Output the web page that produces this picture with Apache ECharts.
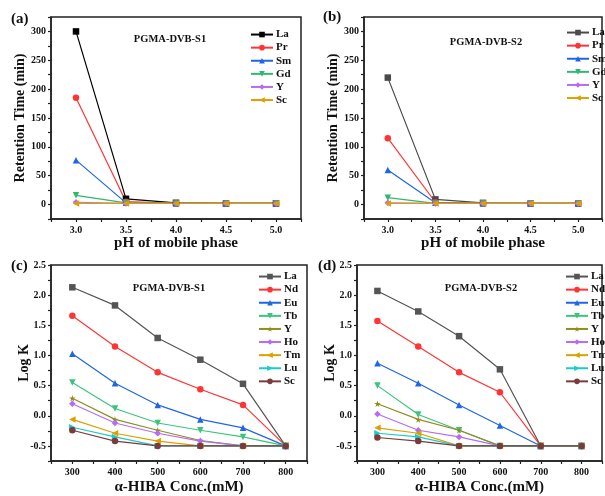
<!DOCTYPE html>
<html><head><meta charset="utf-8">
<script src="https://cdn.jsdelivr.net/npm/echarts@6/dist/echarts.min.js"></script>
<style>html,body{margin:0;padding:0;background:#fff}#c{width:605px;height:496px}</style>
</head><body><div id="c"></div>
<script>
// ---------- data ----------
const pH = [3.0, 3.5, 4.0, 4.5, 5.0];
const conc = [300, 400, 500, 600, 700, 800];

// panel (a) PGMA-DVB-S1 retention time (min)
const a_La = [300, 10, 3, 2, 2];
const a_Pr = [185, 5, 2, 2, 2];
const a_Sm = [77, 3, 2, 2, 2];
const a_Gd = [16, 3, 2, 2, 2];
const a_Y  = [4, 2, 2, 2, 2];
const a_Sc = [2, 2, 2, 2, 2];

// panel (b) PGMA-DVB-S2 retention time (min)
const b_La = [220, 9, 3, 2, 2];
const b_Pr = [115, 4, 2, 2, 2];
const b_Sm = [60, 3, 2, 2, 2];
const b_Gd = [12, 2, 2, 2, 2];
const b_Y  = [3, 2, 2, 2, 2];
const b_Sc = [2, 2, 2, 2, 2];

// panel (c) PGMA-DVB-S1 log K
const c_La = [2.13, 1.83, 1.29, 0.93, 0.53, -0.5];
const c_Nd = [1.66, 1.15, 0.72, 0.44, 0.18, -0.5];
const c_Eu = [1.03, 0.54, 0.18, -0.06, -0.2, -0.5];
const c_Tb = [0.55, 0.12, -0.12, -0.24, -0.35, -0.5];
const c_Y  = [0.29, -0.06, -0.24, -0.41, -0.5, -0.5];
const c_Ho = [0.2, -0.12, -0.29, -0.42, -0.5, -0.5];
const c_Tm = [-0.06, -0.29, -0.42, -0.5, -0.5, -0.5];
const c_Lu = [-0.19, -0.35, -0.5, -0.5, -0.5, -0.5];
const c_Sc = [-0.24, -0.42, -0.5, -0.5, -0.5, -0.5];

// panel (d) PGMA-DVB-S2 log K
const d_La = [2.07, 1.73, 1.32, 0.77, -0.5, -0.5];
const d_Nd = [1.57, 1.15, 0.72, 0.39, -0.5, -0.5];
const d_Eu = [0.87, 0.54, 0.18, -0.16, -0.5, -0.5];
const d_Tb = [0.5, 0.02, -0.24, -0.5, -0.5, -0.5];
const d_Y  = [0.2, -0.06, -0.24, -0.5, -0.5, -0.5];
const d_Ho = [0.03, -0.24, -0.35, -0.5, -0.5, -0.5];
const d_Tm = [-0.2, -0.29, -0.5, -0.5, -0.5, -0.5];
const d_Lu = [-0.29, -0.35, -0.5, -0.5, -0.5, -0.5];
const d_Sc = [-0.36, -0.42, -0.5, -0.5, -0.5, -0.5];

const panelLabels = ['(a)', '(b)', '(c)', '(d)'];
const panelTitles = ['PGMA-DVB-S1', 'PGMA-DVB-S2', 'PGMA-DVB-S1', 'PGMA-DVB-S2'];
const xNameTop = 'pH of mobile phase';
const xNameBottom = 'α-HIBA Conc.(mM)';
const yNameTop = 'Retention Time (min)';
const yNameBottom = 'Log K';

// ---------- styles ----------
const FONT = "'Liberation Serif','Times New Roman',serif";
const STAR = 'path://M50,0 L61,35 L98,35 L68,57 L79,91 L50,70 L21,91 L32,57 L2,35 L39,35 Z';
const AX = '#222';

const grids = [
  {left: 51, top: 17, width: 250, height: 202},
  {left: 364, top: 17, width: 250, height: 202},
  {left: 51, top: 265, width: 256, height: 198},
  {left: 357, top: 265, width: 256, height: 198}
];

function near(v, step) { return Math.abs(v / step - Math.round(v / step)) < 1e-6; }

function xAxis(i) {
  const top = i < 2;
  return {
    type: 'value', gridIndex: i,
    min: top ? 2.75 : 250, max: top ? 5.25 : 850, interval: top ? 0.25 : 50,
    name: top ? xNameTop : xNameBottom, nameLocation: 'middle', nameGap: top ? 16 : 19,
    nameTextStyle: {fontFamily: FONT, fontWeight: 'bold', fontSize: 15, color: '#111'},
    axisLine: {show: true, onZero: false, lineStyle: {color: AX, width: 1.5}},
    axisTick: {show: true, inside: false, length: 3, lineStyle: {color: AX, width: 1.2}},
    axisLabel: {fontFamily: FONT, fontWeight: 'bold', fontSize: 10, color: '#111', margin: 6,
      formatter: v => top ? (near(v, 0.5) ? v.toFixed(1) : '') : (near(v, 100) ? String(v) : '')},
    splitLine: {show: false}
  };
}
function yAxis(i) {
  const top = i < 2;
  return {
    type: 'value', gridIndex: i,
    min: top ? -25 : -0.75, max: top ? 325 : 2.5, interval: top ? 25 : 0.25,
    name: top ? yNameTop : yNameBottom, nameLocation: 'middle', nameGap: top ? 24 : 20,
    nameMoveOverlap: false,
    nameTextStyle: {fontFamily: FONT, fontWeight: 'bold', fontSize: 14, color: '#111'},
    axisLine: {show: true, onZero: false, lineStyle: {color: AX, width: 1.5}},
    axisTick: {show: true, inside: false, length: 3, lineStyle: {color: AX, width: 1.2}},
    axisLabel: {fontFamily: FONT, fontWeight: 'bold', fontSize: 10, color: '#111', margin: 5,
      formatter: v => top ? (near(v, 50) ? String(Math.round(v)) : '') : (near(v, 0.5) ? v.toFixed(1) : '')},
    splitLine: {show: false}
  };
}

const series = [];
const legendData = [[], [], [], []];
function add(panel, name, xs, ys, color, symbol, rot) {
  const key = name + '|' + panel;
  legendData[panel].push(key);
  series.push({
    type: 'line', name: key, xAxisIndex: panel, yAxisIndex: panel,
    data: xs.map((x, k) => [x, ys[k]]),
    symbol: symbol, symbolSize: 6.5, symbolRotate: rot || 0,
    lineStyle: {color: color, width: 1.2},
    itemStyle: {color: color},
    emphasis: {disabled: true}, animation: false, z: 2
  });
}
const RED = '#ff3535', BLUE = '#1f66e5', GREEN = '#2fb872', PURPLE = '#b46cf5', GOLD = '#dda000';
const abCols = [
  ['La', 'rect', 0], ['Pr', 'circle', 0], ['Sm', 'triangle', 0],
  ['Gd', 'triangle', 180], ['Y', 'diamond', 0], ['Sc', 'triangle', 90]
];
const aData = [a_La, a_Pr, a_Sm, a_Gd, a_Y, a_Sc];
const bData = [b_La, b_Pr, b_Sm, b_Gd, b_Y, b_Sc];
const aColors = ['#000000', RED, BLUE, GREEN, PURPLE, GOLD];
const bColors = ['#4a4a4a', RED, BLUE, GREEN, PURPLE, GOLD];
abCols.forEach((c, k) => add(0, c[0], pH, aData[k], aColors[k], c[1], c[2]));
abCols.forEach((c, k) => add(1, c[0], pH, bData[k], bColors[k], c[1], c[2]));

const cdCols = [
  ['La', 'rect', 0, '#555555'], ['Nd', 'circle', 0, RED], ['Eu', 'triangle', 0, BLUE],
  ['Tb', 'triangle', 180, '#3cc47f'], ['Y', STAR, 0, '#8e8e1e'], ['Ho', 'diamond', 0, PURPLE],
  ['Tm', 'triangle', 90, GOLD], ['Lu', 'triangle', -90, '#18cccc'], ['Sc', 'circle', 0, '#7b3b3b']
];
const cData = [c_La, c_Nd, c_Eu, c_Tb, c_Y, c_Ho, c_Tm, c_Lu, c_Sc];
const dData = [d_La, d_Nd, d_Eu, d_Tb, d_Y, d_Ho, d_Tm, d_Lu, d_Sc];
cdCols.forEach((c, k) => add(2, c[0], conc, cData[k], c[3], c[1], c[2]));
cdCols.forEach((c, k) => add(3, c[0], conc, dData[k], c[3], c[1], c[2]));

const legendPos = [{left: 250, top: 28}, {left: 566, top: 26}, {left: 258, top: 270}, {left: 565, top: 270}];
const legends = legendPos.map((p, i) => ({
  left: p.left, top: p.top, orient: 'vertical', data: legendData[i],
  itemWidth: 22, itemHeight: 7, itemGap: 0, selectedMode: false,
  formatter: n => n.split('|')[0],
  textStyle: {fontFamily: FONT, fontWeight: 'bold', fontSize: 11, color: '#111', lineHeight: 13.1, padding: [0, 0, 0, -2]},
  padding: 0
}));

const labelPos = [[11, 12], [323, 10], [11, 259], [318, 259]];
const titlePos = [[170, 39], [486, 42], [169, 288], [481, 288]];
const graphics = [];
panelLabels.forEach((t, i) => graphics.push({
  type: 'text', left: labelPos[i][0], top: labelPos[i][1],
  style: {text: t, font: 'bold 15px ' + FONT, fill: '#111'}
}));
panelTitles.forEach((t, i) => graphics.push({
  type: 'text', x: titlePos[i][0], y: titlePos[i][1],
  style: {text: t, font: 'bold 10.5px ' + FONT, fill: '#111', align: 'center', verticalAlign: 'middle'}
}));

const chart = echarts.init(document.getElementById('c'), null, {renderer: 'canvas'});
chart.setOption({
  animation: false,
  grid: grids.map(g => Object.assign({show: true, borderColor: AX, borderWidth: 1.5, containLabel: false}, g)),
  xAxis: [0, 1, 2, 3].map(xAxis),
  yAxis: [0, 1, 2, 3].map(yAxis),
  legend: legends,
  series: series,
  graphic: graphics
});
</script></body></html>
